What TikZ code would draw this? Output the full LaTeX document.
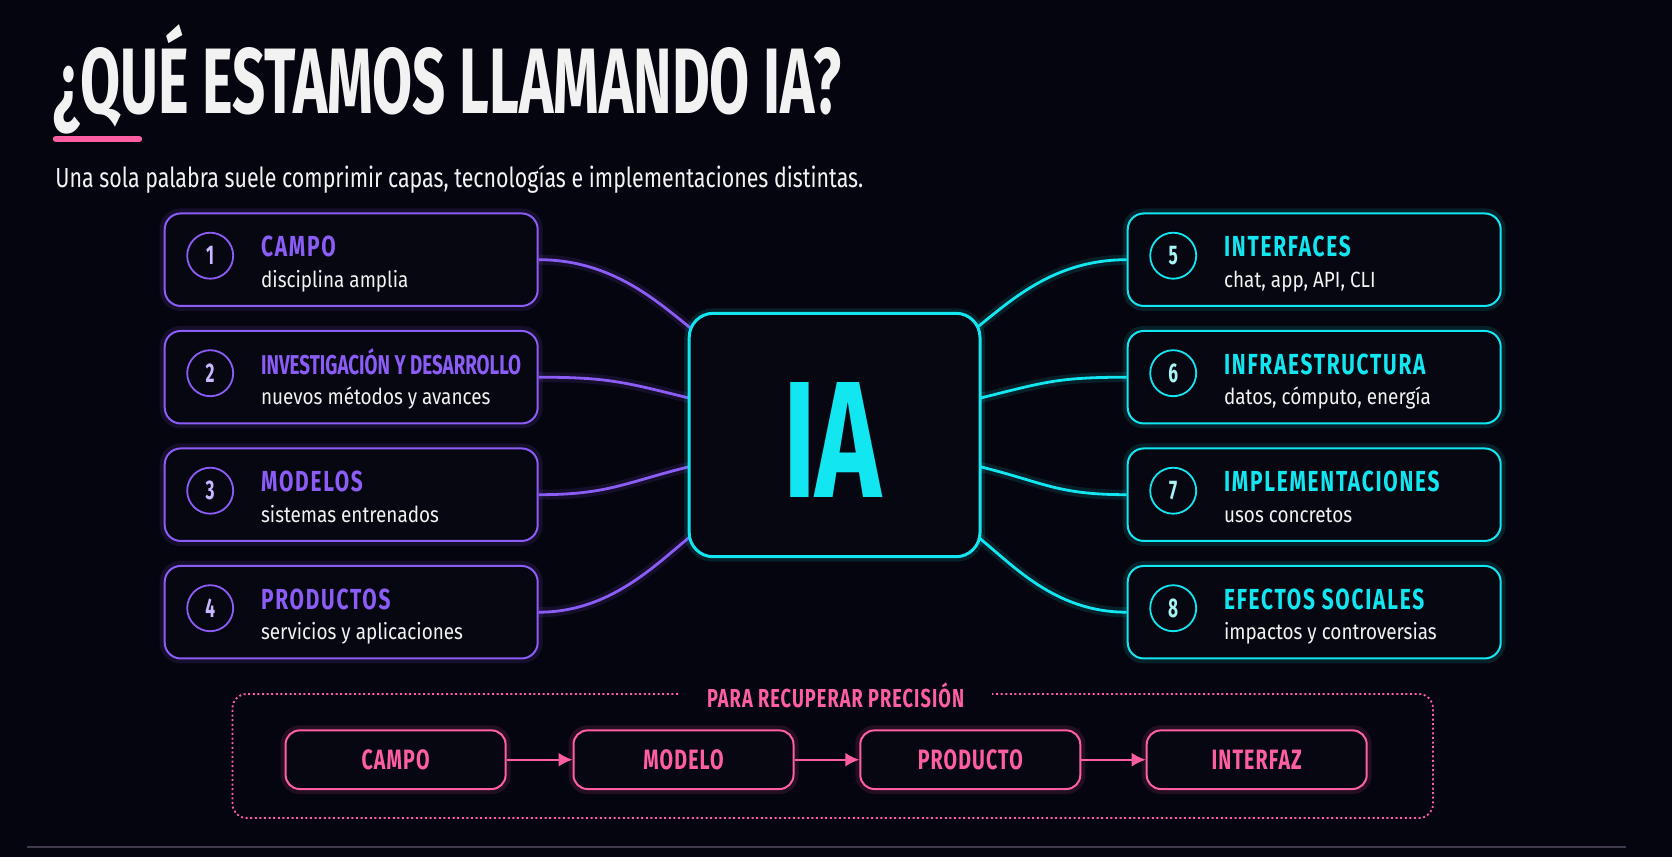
\documentclass[tikz,border=0pt]{standalone}
\usepackage{fontspec}
\usetikzlibrary{arrows.meta}
\newfontfamily\ftitle[FakeStretch=0.625]{Fira Sans}
\newfontfamily\fhead[FakeStretch=0.72,LetterSpace=6]{Fira Sans}
\newfontfamily\fheadnar[FakeStretch=0.69]{Fira Sans}
\newfontfamily\fnum[FakeStretch=0.64]{Fira Sans}
\newfontfamily\fheadsp[FakeStretch=0.70,LetterSpace=4]{Fira Sans}
\newfontfamily\fia[FakeStretch=0.672]{Fira Sans}
\newfontfamily\fbody[FakeStretch=0.86]{Fira Sans}
\newfontfamily\fsub[FakeStretch=0.775]{Fira Sans}
\definecolor{bg}{HTML}{05050F}
\definecolor{boxfill}{HTML}{070712}
\definecolor{purp}{HTML}{8B5CF6}
\definecolor{lav}{HTML}{C9B8FF}
\definecolor{cyn}{HTML}{12E6F0}
\definecolor{pcyn}{HTML}{A8F4F4}
\definecolor{pnk}{HTML}{FF5FA2}
\definecolor{wht}{HTML}{F2F2F2}
\definecolor{rulec}{HTML}{3E3A4C}
\pgfdeclarelayer{back}
\pgfsetlayers{back,main}
\tikzset{
  glow/.style={preaction={draw=#1, draw opacity=.12, line width=5pt}},
  catbox/.style={draw=#1, glow=#1, rounded corners=8pt, fill=boxfill,
    minimum width=186.5pt, minimum height=46.25pt, line width=1pt, inner sep=0pt},
  numc/.style={circle, draw=#1, line width=0.9pt, minimum size=23pt, inner sep=0pt,
    font=\fnum\bfseries\fontsize{13.5}{13.5}\selectfont},
  cattitle/.style={anchor=base west, inner sep=0pt,
    font=\fhead\bfseries\fontsize{14.5}{14.5}\selectfont},
  catsub/.style={anchor=base west, inner sep=0pt, text=wht,
    font=\fbody\fontsize{11}{11}\selectfont},
  conn/.style={draw=#1, line width=1.4pt, glow=#1},
  flowbox/.style={draw=pnk, glow=pnk, rounded corners=7pt, line width=1pt, fill=boxfill,
    minimum width=110pt, minimum height=29.3pt, inner sep=0pt, text=pnk,
    font=\fheadsp\bfseries\fontsize{14}{14}\selectfont},
  flowarrow/.style={draw=pnk, line width=1pt, -{Latex[length=7pt,width=7pt]}},
}
\newcommand\catbox[8]{%
  \node[catbox=#4] (#1) at (#2,#3) {};
  \node[numc=#4, text=#5] (#1n) at ([shift={(46.5,-4)}]#1.west) {#6};
  \node[cattitle, text=#4] (#1t) at ([shift={(97,-3)}]#1.west) {#7};
  \node[catsub] (#1s) at ([shift={(97,27.6)}]#1.west) {#8};
}
\begin{document}
\begin{tikzpicture}[x=0.5pt, y=-0.5pt]
\useasboundingbox (0,0) rectangle (1672,857);
\begin{pgfonlayer}{back}
\fill[bg] (0,0) rectangle (1672,857);
\end{pgfonlayer}

% title
\node[anchor=base west, inner sep=0pt, text=wht,
  font=\ftitle\bfseries\fontsize{46.5}{46.5}\selectfont] (title) at (53,113) {¿QUÉ ESTAMOS LLAMANDO IA?};
\draw[pnk, line width=3.2pt, line cap=round] (56,139) -- (139,139);
\node[anchor=base west, inner sep=0pt, text=wht,
  font=\fsub\fontsize{13.8}{13.8}\selectfont] (subt) at (55,187)
  {Una sola palabra suele comprimir capas, tecnologías e implementaciones distintas.};

% central node
\node[draw=cyn, glow=cyn, line width=1.5pt, rounded corners=12pt, fill=boxfill,
  minimum width=145.4pt, minimum height=121.7pt, inner sep=0pt] (ia) at (834.6,435) {};
\node[text=cyn, inner sep=0pt, font=\fia\bfseries\fontsize{83}{83}\selectfont] (iat) at (832.5,440) {IA};

% category boxes
\catbox{b1}{351.2}{259.7}{purp}{lav}{1}{CAMPO}{disciplina amplia}
\catbox{b2}{351.2}{377.2}{purp}{lav}{2}{\fheadnar\bfseries\fontsize{13.6}{13.6}\selectfont INVESTIGACIÓN Y DESARROLLO}{nuevos métodos y avances}
\catbox{b3}{351.2}{494.7}{purp}{lav}{3}{MODELOS}{sistemas entrenados}
\catbox{b4}{351.2}{612.2}{purp}{lav}{4}{PRODUCTOS}{servicios y aplicaciones}
\catbox{b5}{1314.2}{259.7}{cyn}{pcyn}{5}{INTERFACES}{chat, app, API, CLI}
\catbox{b6}{1314.2}{377.2}{cyn}{pcyn}{6}{INFRAESTRUCTURA}{datos, cómputo, energía}
\catbox{b7}{1314.2}{494.7}{cyn}{pcyn}{7}{IMPLEMENTACIONES}{usos concretos}
\catbox{b8}{1314.2}{612.2}{cyn}{pcyn}{8}{EFECTOS SOCIALES}{impactos y controversias}

% connector end points on the central node
\coordinate (l1) at (690.5,328);
\coordinate (l2) at (690,398.3);
\coordinate (l3) at (690,466.5);
\coordinate (l4) at (691,536);
\coordinate (r1) at (977,327.5);
\coordinate (r2) at (979.3,398.3);
\coordinate (r3) at (979.3,466.5);
\coordinate (r4) at (978,537);

\begin{pgfonlayer}{back}
\draw[conn=purp] (b1.east) .. controls +(72,0) and +(-35,-28) .. (l1);
\draw[conn=purp] (b2.east) .. controls +(70,0) and +(-65,-16) .. (l2);
\draw[conn=purp] (b3.east) .. controls +(70,0) and +(-65,16) .. (l3);
\draw[conn=purp] (b4.east) .. controls +(72,0) and +(-35,28) .. (l4);
\draw[conn=cyn] (b5.west) .. controls +(-72,0) and +(35,-28) .. (r1);
\draw[conn=cyn] (b6.west) .. controls +(-70,0) and +(65,-16) .. (r2);
\draw[conn=cyn] (b7.west) .. controls +(-70,0) and +(65,16) .. (r3);
\draw[conn=cyn] (b8.west) .. controls +(-72,0) and +(35,28) .. (r4);
\end{pgfonlayer}

% bottom section
\draw[pnk, line width=0.9pt, dash pattern=on 1pt off 1.3pt, rounded corners=7pt]
  (678,694) -- (232.5,694) -- (232.5,818) -- (1433,818) -- (1433,694) -- (992,694);
\node[text=pnk, inner sep=0pt, font=\fheadsp\bfseries\fontsize{13}{13}\selectfont]
  (lbl) at (835.6,695) {PARA RECUPERAR PRECISIÓN};
\node[flowbox] (f1) at (395.6,759.7) {CAMPO};
\node[flowbox] (f2) at (683.5,759.7) {MODELO};
\node[flowbox] (f3) at (970.3,759.7) {PRODUCTO};
\node[flowbox] (f4) at (1256.7,759.7) {INTERFAZ};
\draw[flowarrow] (f1) -- (f2);
\draw[flowarrow] (f2) -- (f3);
\draw[flowarrow] (f3) -- (f4);

\draw[rulec, line width=1pt] (27,847) -- (1626,847);
\end{tikzpicture}
\end{document}
